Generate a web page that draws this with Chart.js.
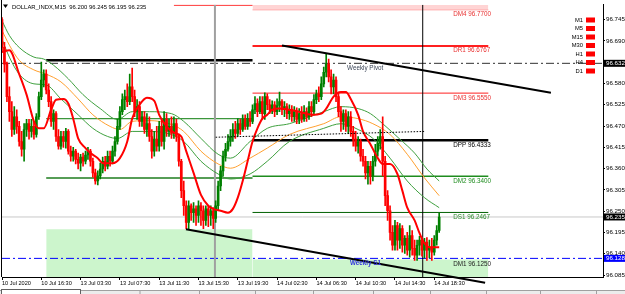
<!DOCTYPE html>
<html><head><meta charset="utf-8">
<script src="https://cdn.jsdelivr.net/npm/chart.js@4.4.1/dist/chart.umd.min.js"></script>
<style>html,body{margin:0;padding:0;background:#fff;overflow:hidden}canvas{display:block}</style>
</head><body>
<canvas id="c" width="625" height="294"></canvas>
<script>
// ---- DATA (DOLLAR_INDX, M15) ----
const opens=[96.745,96.673,96.630,96.546,96.507,96.461,96.494,96.469,96.430,96.410,
96.461,96.476,96.456,96.469,96.448,96.494,96.546,96.589,96.604,96.563,
96.533,96.482,96.502,96.443,96.418,96.443,96.430,96.456,96.405,96.392,
96.405,96.384,96.374,96.390,96.379,96.395,96.405,96.379,96.349,96.328,
96.341,96.359,96.379,96.366,96.392,96.379,96.405,96.430,96.469,96.507,
96.538,96.546,96.533,96.571,96.546,96.507,96.520,96.482,96.494,96.461,
96.476,96.443,96.405,96.436,96.418,96.469,96.430,96.487,96.456,96.469,
96.451,96.476,96.443,96.379,96.303,96.264,96.221,96.264,96.246,96.256,
96.239,96.264,96.251,96.226,96.256,96.239,96.251,96.231,96.264,96.315,
96.354,96.392,96.410,96.430,96.443,96.461,96.451,96.476,96.461,96.487,
96.469,96.489,96.482,96.512,96.528,96.507,96.533,96.502,96.546,96.525,
96.512,96.525,96.507,96.523,96.533,96.512,96.520,96.502,96.512,96.494,
96.507,96.487,96.502,96.489,96.507,96.494,96.520,96.507,96.538,96.553,
96.546,96.579,96.609,96.630,96.597,96.571,96.589,96.546,96.507,96.482,
96.502,96.469,96.494,96.456,96.436,96.418,96.430,96.392,96.379,96.349,
96.366,96.341,96.379,96.405,96.425,96.443,96.379,96.290,96.251,96.195,
96.162,96.213,96.175,96.205,96.162,96.180,96.149,96.187,96.154,96.136,
96.162,96.175,96.149,96.170,96.149,96.157,96.144,96.175,96.200];
const highs=[96.750,96.686,96.635,96.571,96.533,96.520,96.512,96.482,96.456,96.476,
96.487,96.487,96.487,96.482,96.502,96.558,96.635,96.615,96.615,96.579,
96.546,96.512,96.507,96.461,96.456,96.456,96.464,96.461,96.418,96.415,
96.410,96.400,96.397,96.400,96.405,96.415,96.410,96.387,96.359,96.354,
96.374,96.390,96.392,96.405,96.405,96.418,96.443,96.487,96.520,96.553,
96.563,96.579,96.604,96.620,96.563,96.538,96.533,96.507,96.507,96.502,
96.494,96.461,96.456,96.469,96.482,96.487,96.507,96.502,96.487,96.494,
96.494,96.487,96.448,96.384,96.328,96.277,96.277,96.269,96.272,96.264,
96.277,96.272,96.264,96.264,96.264,96.264,96.259,96.277,96.328,96.366,
96.405,96.425,96.448,96.461,96.476,96.482,96.489,96.487,96.499,96.499,
96.502,96.507,96.525,96.546,96.540,96.546,96.546,96.556,96.553,96.538,
96.535,96.533,96.540,96.558,96.538,96.533,96.528,96.525,96.523,96.520,
96.517,96.515,96.520,96.523,96.517,96.533,96.533,96.551,96.563,96.571,
96.597,96.622,96.655,96.643,96.615,96.604,96.597,96.558,96.520,96.512,
96.512,96.507,96.507,96.469,96.456,96.443,96.436,96.410,96.392,96.379,
96.379,96.392,96.423,96.443,96.461,96.494,96.392,96.303,96.264,96.213,
96.226,96.221,96.218,96.213,96.187,96.195,96.213,96.200,96.175,96.175,
96.185,96.182,96.180,96.182,96.175,96.180,96.187,96.213,96.245];
const lows=[96.661,96.609,96.533,96.482,96.443,96.448,96.451,96.418,96.392,96.379,
96.443,96.436,96.441,96.436,96.441,96.487,96.538,96.571,96.553,96.520,
96.469,96.461,96.430,96.410,96.410,96.415,96.413,96.397,96.379,96.379,
96.372,96.359,96.354,96.366,96.372,96.384,96.366,96.338,96.320,96.318,
96.333,96.349,96.354,96.359,96.366,96.372,96.392,96.423,96.461,96.499,
96.512,96.520,96.525,96.533,96.494,96.487,96.469,96.469,96.451,96.443,
96.430,96.387,96.392,96.405,96.405,96.418,96.410,96.443,96.443,96.438,
96.438,96.430,96.366,96.285,96.239,96.205,96.205,96.226,96.221,96.213,
96.221,96.213,96.205,96.213,96.210,96.213,96.205,96.221,96.251,96.303,
96.341,96.379,96.405,96.418,96.430,96.438,96.443,96.448,96.456,96.461,
96.461,96.469,96.476,96.502,96.494,96.502,96.487,96.487,96.512,96.502,
96.502,96.494,96.499,96.507,96.499,96.494,96.489,96.487,96.482,96.482,
96.476,96.476,96.479,96.482,96.482,96.487,96.494,96.502,96.528,96.533,
96.538,96.571,96.597,96.584,96.553,96.553,96.533,96.494,96.456,96.461,
96.456,96.451,96.443,96.418,96.405,96.400,96.379,96.366,96.333,96.320,
96.320,96.328,96.366,96.392,96.410,96.341,96.264,96.226,96.175,96.149,
96.149,96.149,96.154,96.144,96.141,96.136,96.131,96.136,96.123,96.123,
96.136,96.134,96.129,96.123,96.129,96.123,96.136,96.162,96.195];
const closes=[96.673,96.630,96.546,96.507,96.461,96.494,96.469,96.430,96.410,96.461,
96.476,96.456,96.469,96.448,96.494,96.546,96.589,96.604,96.563,96.533,
96.482,96.502,96.443,96.418,96.443,96.430,96.456,96.405,96.392,96.405,
96.384,96.374,96.390,96.379,96.395,96.405,96.379,96.349,96.328,96.341,
96.359,96.379,96.366,96.392,96.379,96.405,96.430,96.469,96.507,96.538,
96.546,96.533,96.571,96.546,96.507,96.520,96.482,96.494,96.461,96.476,
96.443,96.405,96.436,96.418,96.469,96.430,96.487,96.456,96.469,96.451,
96.476,96.443,96.379,96.303,96.264,96.221,96.264,96.246,96.256,96.239,
96.264,96.251,96.226,96.256,96.239,96.251,96.231,96.264,96.315,96.354,
96.392,96.410,96.430,96.443,96.461,96.451,96.476,96.461,96.487,96.469,
96.489,96.482,96.512,96.528,96.507,96.533,96.502,96.546,96.525,96.512,
96.525,96.507,96.523,96.533,96.512,96.520,96.502,96.512,96.494,96.507,
96.487,96.502,96.489,96.507,96.494,96.520,96.507,96.538,96.553,96.546,
96.579,96.609,96.630,96.597,96.571,96.589,96.546,96.507,96.482,96.502,
96.469,96.494,96.456,96.436,96.418,96.430,96.392,96.379,96.349,96.366,
96.341,96.379,96.405,96.425,96.443,96.379,96.290,96.251,96.195,96.162,
96.213,96.175,96.205,96.162,96.180,96.149,96.187,96.154,96.136,96.162,
96.175,96.149,96.170,96.149,96.157,96.144,96.175,96.200,96.235];

// smoothed red moving average (bar index, value)
const maBars=[0,3,7,10,13,15,17,20,22,25,27,29,31,34,36,39,41,45,48,51,53,56,59,62,64,67,70,73,75,78,81,84,86,89,92,94,96,98,100,102,104,106,108,110,113,117,121,126,130,132,135,138,140,142,145,147,150,153,155,158,161,163,165,168,170,172,174,178];
const maValues=[96.661,96.666,96.604,96.551,96.482,96.464,96.464,96.512,96.538,96.540,96.528,96.489,96.438,96.413,96.400,96.387,96.374,96.374,96.387,96.430,96.489,96.525,96.543,96.535,96.499,96.469,96.453,96.443,96.405,96.349,96.292,96.264,96.256,96.251,96.246,96.256,96.285,96.328,96.379,96.430,96.464,96.489,96.499,96.512,96.515,96.512,96.507,96.499,96.502,96.515,96.546,96.558,96.558,96.540,96.499,96.456,96.423,96.387,96.372,96.372,96.346,96.303,96.259,96.226,96.193,96.167,96.157,96.157];
// envelope bands
const upperBars=[0,3,7,13,17,21,27,33,40,47,53,60,69,74,81,88,93,101,108,117,131,138,145,150,155,162,168,173,178];
const upperValues=[96.742,96.704,96.673,96.648,96.643,96.627,96.592,96.551,96.515,96.487,96.507,96.507,96.502,96.482,96.438,96.397,96.387,96.430,96.464,96.476,96.507,96.520,96.515,96.502,96.476,96.436,96.400,96.359,96.328];
const midBars=[0,3,7,13,18,24,31,37,44,48,53,60,69,74,81,88,93,101,108,117,131,138,145,151,158,165,172,178];
const midValues=[96.717,96.679,96.640,96.615,96.604,96.584,96.540,96.499,96.469,96.461,96.482,96.484,96.474,96.456,96.405,96.372,96.361,96.387,96.413,96.448,96.476,96.494,96.489,96.476,96.448,96.397,96.336,96.290];
const lowerBars=[0,3,7,13,18,24,31,37,43,47,53,60,69,74,81,88,93,101,108,117,131,138,145,151,158,165,172,178];
const lowerValues=[96.694,96.648,96.604,96.579,96.576,96.540,96.499,96.464,96.443,96.438,96.456,96.456,96.448,96.430,96.379,96.346,96.333,96.346,96.379,96.430,96.464,96.476,96.461,96.438,96.387,96.328,96.285,96.259];

// daily pivot levels (14 Jul) and previous day (13 Jul)
const levelNames=["DM4","DR1","DM3","DPP","DM2","DS1","DM1"];
const levelValues=[96.7700,96.6767,96.5550,96.4333,96.3400,96.2467,96.1250];
const prevDayLevels=[96.640,96.489,96.336,96.203];
const dayStartBars=[18,102,198];
const weeklyPivot=96.632, weeklyS1=96.128, bidPrice=96.235;
const trendUpper=[[114,96.678],[223.5,96.556]];
const trendLower=[[74.9,96.203],[196.7,96.065]];
const dottedTrend=[[87,96.441],[172,96.456]];
const vLineBars=[86.7,171.3];
const timeframes=["M1","M5","M15","M30","H1","H4","D1"];
const xTickBars=[0,16,32,48,64,80,96,112,128,144,160,176];
const xTickLabels=["10 Jul 2020","10 Jul 16:30","13 Jul 03:30","13 Jul 07:30","13 Jul 11:30","13 Jul 15:30","13 Jul 19:30","14 Jul 02:30","14 Jul 06:30","14 Jul 10:30","14 Jul 14:30","14 Jul 18:30"];
const yTickValues=[96.745,96.690,96.580,96.525,96.470,96.415,96.360,96.305,96.250,96.195,96.140,96.085];
const titleText="DOLLAR_INDX,M15  96.200 96.245 96.195 96.235";

// ---- CHART ----
const FONT='Liberation Sans';
Chart.defaults.font.family=FONT;
const yMin=96.0799, yMax=96.7834, xMin=0, xMax=244.7;
const UP='#008000', DN='#ff0000';
const seg=(a,b,v)=>[{x:a,y:v},{x:b,y:v}];
const pts=(ix,vs)=>ix.map((x,k)=>({x:x,y:vs[k]}));
const candleColor=c=>(closes[c.dataIndex]>=opens[c.dataIndex]?UP:DN);
const L=(data,color,width,order,extra)=>Object.assign({type:'line',data,borderColor:color,borderWidth:width,pointRadius:0,fill:false,order},extra||{});
const T='rgba(0,0,0,0)';
const d0=dayStartBars[0], d1=dayStartBars[1], d2=dayStartBars[2];

const datasets=[
  L(seg(d0,d1,prevDayLevels[3]),T,1,100,{fill:'start',backgroundColor:'#ccf5cc'}),
  L(seg(d1,d2,levelValues[6]),T,1,100,{fill:'start',backgroundColor:'#ccf5cc'}),
  L(seg(d1,d2,levelValues[0]),'#ffb0b0',1,100,{fill:'end',backgroundColor:'#ffd4d4'}),
  L(seg(70,d1,96.782),'#ff5050',1.5,90),
  L(seg(xMin,xMax,bidPrice),'#c8c8c8',1,95),
  L(seg(xMin,xMax,weeklyPivot),'#303030',1,85,{borderDash:[8,3,2,3]}),
  L(seg(xMin,xMax,weeklyS1),'#0000ff',1,85,{borderDash:[8,3,2,3]}),
  L(seg(d0,d1,prevDayLevels[0]),'#000000',2.5,80),
  L(seg(d0,d1,prevDayLevels[1]),'#3c963c',1.2,80),
  L(seg(d0,d1,prevDayLevels[2]),'#1e7d1e',1.5,80),
  L(seg(d1,d2,levelValues[1]),'#ff2020',2,80),
  L(seg(d1,d2,levelValues[2]),'#ff2020',1,80),
  L(seg(d1,d2,levelValues[3]),'#000000',2.5,80),
  L(seg(d1,d2,levelValues[4]),'#1e8c1e',1.5,80),
  L(seg(d1,d2,levelValues[5]),'#006000',1,80),
  L([{x:vLineBars[0],y:yMin},{x:vLineBars[0],y:yMax}],'#a0a0a0',2,70),
  L([{x:vLineBars[1],y:yMin},{x:vLineBars[1],y:yMax}],'#000000',1,70),
  L(pts(upperBars,upperValues),'#3fa03f',1,60,{cubicInterpolationMode:'monotone'}),
  L(pts(midBars,midValues),'#ffa030',1,60,{cubicInterpolationMode:'monotone'}),
  L(pts(lowerBars,lowerValues),'#3fa03f',1,60,{cubicInterpolationMode:'monotone'}),
  {type:'bar',data:lows.map((l,i)=>({x:i,y:[l,highs[i]]})),backgroundColor:candleColor,barThickness:1,grouped:false,borderWidth:0,order:51},
  {type:'bar',data:opens.map((o,i)=>({x:i,y:[o,closes[i]]})),backgroundColor:candleColor,barThickness:2,grouped:false,borderWidth:0,minBarLength:1,order:50},
  L(pts(maBars,maValues),'#ff0000',2,40,{cubicInterpolationMode:'monotone'}),
  L(dottedTrend.map(p=>({x:p[0],y:p[1]})),'#000000',1,30,{borderDash:[1.5,1.5]}),
  L(trendUpper.map(p=>({x:p[0],y:p[1]})),'#000000',2,1,{clip:false}),
  L(trendLower.map(p=>({x:p[0],y:p[1]})),'#000000',2,1,{clip:false})
];

const levelColors=['#e83030','#e83030','#e83030','#000000','#1e8c1e','#2a8a2a','#202020'];
const overlay={
  id:'overlay',
  afterDraw(chart){
    const {ctx,chartArea:a,scales:{x,y}}=chart;
    ctx.save();
    // left border
    ctx.strokeStyle='#000';ctx.lineWidth=1;
    ctx.beginPath();ctx.moveTo(1.5,0);ctx.lineTo(1.5,a.bottom);ctx.stroke();
    // title
    ctx.fillStyle='#000';
    ctx.beginPath();ctx.moveTo(3,4.5);ctx.lineTo(8,4.5);ctx.lineTo(5.5,8);ctx.closePath();ctx.fill();
    ctx.font='5.9px '+FONT;ctx.textBaseline='middle';ctx.textAlign='left';
    ctx.fillText(titleText,12,7);
    // level labels
    ctx.font='6.3px '+FONT;ctx.textBaseline='top';
    const lx=x.getPixelForValue(183.7);
    levelNames.forEach((n,k)=>{
      ctx.fillStyle=levelColors[k];
      ctx.fillText(n+' '+levelValues[k].toFixed(4),lx,y.getPixelForValue(levelValues[k])+1.5);
    });
    ctx.fillStyle='#3c4658';
    ctx.fillText('Weekly Pivot',x.getPixelForValue(140.5),y.getPixelForValue(weeklyPivot)+1.5);
    ctx.font='bold 6.3px '+FONT;ctx.fillStyle='#3333dd';
    ctx.fillText('Weekly S1',x.getPixelForValue(141.7),y.getPixelForValue(weeklyS1)+1.5);
    // timeframe panel
    ctx.font='5.8px '+FONT;ctx.textBaseline='middle';ctx.textAlign='right';
    timeframes.forEach((t,k)=>{
      const py=20+k*8.5;
      ctx.fillStyle='#000';ctx.fillText(t,583,py);
      ctx.fillStyle='#ff0000';ctx.fillRect(586,py-2.5,9,5);
    });
    // price boxes on axis
    ctx.textAlign='left';ctx.font='6.2px '+FONT;
    [[weeklyPivot,'#000000'],[bidPrice,'#000000'],[weeklyS1,'#0000ff']].forEach(([v,bg])=>{
      const py=y.getPixelForValue(v);
      ctx.fillStyle=bg;ctx.fillRect(a.right+1,py-3.5,24,7);
      ctx.fillStyle='#fff';ctx.fillText(v.toFixed(3),a.right+3,py);
    });
    // bottom tab strip
    ctx.fillStyle='#ececec';ctx.fillRect(0,290,625,4);
    ctx.strokeStyle='#a0a0a0';ctx.beginPath();ctx.moveTo(0,290.5);ctx.lineTo(625,290.5);ctx.stroke();
    ctx.fillStyle='#fff';ctx.fillRect(2,290,78,4);
    ctx.strokeStyle='#606060';ctx.strokeRect(1.5,289.5,79,6);
    ctx.strokeStyle='#a0a0a0';
    [139.5,199,255,313,373,430,486,540,596].forEach(sx=>{ctx.beginPath();ctx.moveTo(sx+0.5,290);ctx.lineTo(sx+0.5,294);ctx.stroke();});
    ctx.restore();
  }
};

new Chart(document.getElementById('c'),{
  type:'line',
  data:{datasets},
  options:{
    responsive:false,devicePixelRatio:1,animation:false,events:[],
    layout:{padding:{left:2,top:2,right:0,bottom:0}},
    plugins:{legend:{display:false},tooltip:{enabled:false}},
    scales:{
      x:{type:'linear',min:xMin,max:xMax,offset:false,
        afterBuildTicks:s=>{s.ticks=xTickBars.map(v=>({value:v}));},
        afterFit:s=>{s.height=17;},
        ticks:{callback:(v,i)=>xTickLabels[i],align:'start',maxRotation:0,minRotation:0,autoSkip:false,font:{size:5.6,family:FONT},color:'#000',padding:0},
        grid:{drawOnChartArea:false,drawTicks:true,tickLength:3,color:'#000',offset:false},
        border:{display:true,color:'#000'}},
      y:{type:'linear',position:'right',min:yMin,max:yMax,beginAtZero:false,
        afterBuildTicks:s=>{s.ticks=yTickValues.map(v=>({value:v}));},
        afterFit:s=>{s.width=22;},
        ticks:{callback:v=>Number(v).toFixed(3),font:{size:6.2,family:FONT},color:'#000',padding:1,autoSkip:false},
        grid:{drawOnChartArea:false,drawTicks:true,tickLength:2,color:'#000'},
        border:{display:true,color:'#000'}}
    }
  },
  plugins:[overlay]
});
</script>
</body></html>
